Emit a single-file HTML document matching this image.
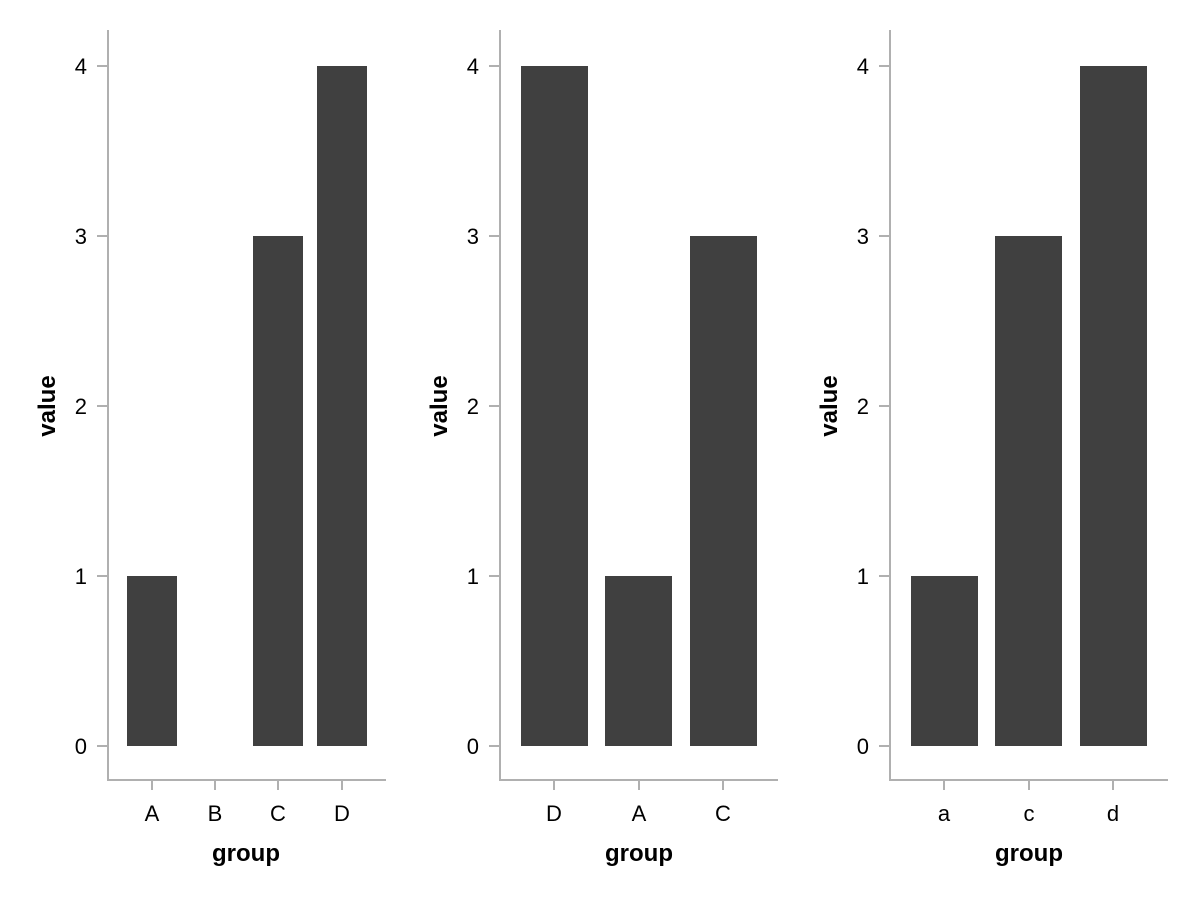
<!DOCTYPE html>
<html><head><style>html,body{margin:0;padding:0;background:#fff}svg{display:block}text{font-family:"Liberation Sans",sans-serif;fill:#000}</style></head><body>
<svg width="1200" height="900" xmlns="http://www.w3.org/2000/svg">
<g fill="#404040">
<rect x="127" y="576" width="50" height="170"/>
<rect x="253" y="236" width="50" height="510"/>
<rect x="317" y="66" width="50" height="680"/>
<rect x="521" y="66" width="67" height="680"/>
<rect x="605" y="576" width="67" height="170"/>
<rect x="690" y="236" width="67" height="510"/>
<rect x="911" y="576" width="67" height="170"/>
<rect x="995" y="236" width="67" height="510"/>
<rect x="1080" y="66" width="67" height="680"/>
</g>
<g stroke="#b0b0b0" stroke-width="2" fill="none">
<path d="M108 30V780H386"/>
<path d="M500 30V780H778"/>
<path d="M890 30V780H1168"/>
<path d="M97 66H107M97 236H107M97 406H107M97 576H107M97 746H107"/>
<path d="M489 66H499M489 236H499M489 406H499M489 576H499M489 746H499"/>
<path d="M879 66H889M879 236H889M879 406H889M879 576H889M879 746H889"/>
<path d="M152 781V790M215 781V790M278 781V790M342 781V790"/>
<path d="M554 781V790M639 781V790M723 781V790"/>
<path d="M944 781V790M1029 781V790M1113 781V790"/>
</g>
<g font-size="22" text-anchor="end">
<text x="87" y="74">4</text><text x="87" y="244">3</text><text x="87" y="414">2</text><text x="87" y="584">1</text><text x="87" y="754">0</text>
<text x="479" y="74">4</text><text x="479" y="244">3</text><text x="479" y="414">2</text><text x="479" y="584">1</text><text x="479" y="754">0</text>
<text x="869" y="74">4</text><text x="869" y="244">3</text><text x="869" y="414">2</text><text x="869" y="584">1</text><text x="869" y="754">0</text>
</g>
<g font-size="22" text-anchor="middle">
<text x="152" y="821">A</text><text x="215" y="821">B</text><text x="278" y="821">C</text><text x="342" y="821">D</text>
<text x="554" y="821">D</text><text x="639" y="821">A</text><text x="723" y="821">C</text>
<text x="944" y="821">a</text><text x="1029" y="821">c</text><text x="1113" y="821">d</text>
</g>
<g font-size="24" font-weight="bold" text-anchor="middle">
<text x="246" y="861">group</text><text x="639" y="861">group</text><text x="1029" y="861">group</text>
<text transform="translate(55,406) rotate(-90)">value</text>
<text transform="translate(447,406) rotate(-90)">value</text>
<text transform="translate(837,406) rotate(-90)">value</text>
</g>
</svg>
</body></html>
